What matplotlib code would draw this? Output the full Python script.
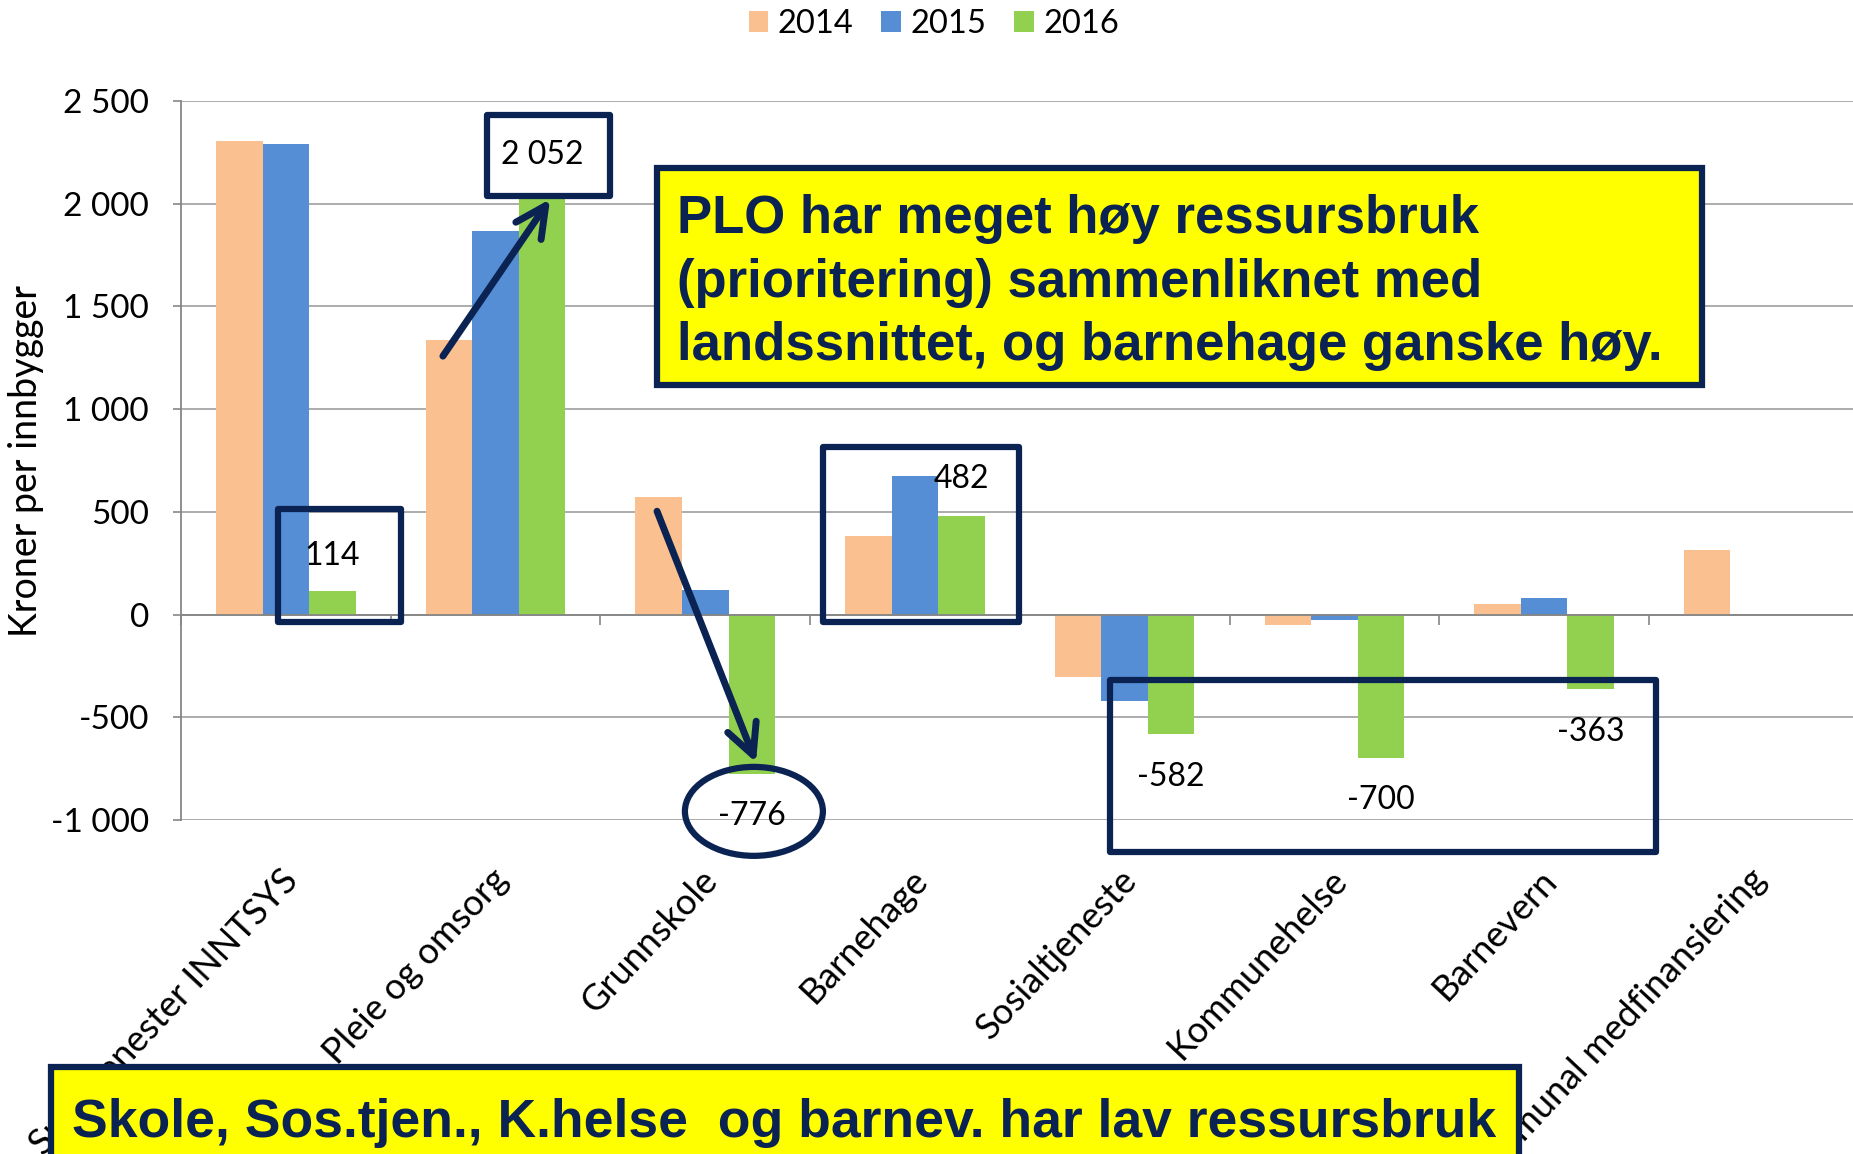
import matplotlib
matplotlib.use("Agg")
import matplotlib.pyplot as plt
from matplotlib.patches import Rectangle, Ellipse, Patch
from matplotlib.ticker import FuncFormatter
import matplotlib.transforms as mtransforms
import numpy as np

# --- data ---
categories = ["Sum tjenester INNTSYS", "Pleie og omsorg", "Grunnskole", "Barnehage",
              "Sosialtjeneste", "Kommunehelse", "Barnevern", "Kommunal medfinansiering"]
years = ["2014", "2015", "2016"]
v2014 = [2306, 1338, 570, 383, -302, -53, 51, 316]
v2015 = [2292, 1868, 119, 676, -421, -24, 79, 0]
v2016 = [114, 2052, -776, 482, -582, -700, -363, 0]
y_ticks = [-1000, -500, 0, 500, 1000, 1500, 2000, 2500]

# where the 2016 value labels sit (data y)
label_y = [286, 2237, -980, 660, -790, -905, -572]

colors = ["#FAC090", "#558ED5", "#92D050"]
navy = "#0B2352"
grid_c = "#A6A6A6"

W, H = 1853, 1154
fig = plt.figure(figsize=(W / 100, H / 100), dpi=100)

def fx(x):
    return x / W

def fy(y):
    return 1 - y / H

ax = fig.add_axes([fx(181), 334 / H, 1677.6 / W, 719 / H])
ax.set_xlim(-0.5, 7.5)
ax.set_ylim(-1000, 2500)

x = np.arange(len(categories))
bw = 0.222
series = [v2014, v2015, v2016]
for k, vals in enumerate(series):
    ax.bar(x + (k - 1) * bw, vals, width=bw, color=colors[k], zorder=2, linewidth=0)

# axes styling
for s in ["top", "right"]:
    ax.spines[s].set_visible(False)
ax.spines["left"].set_color("#868686")
ax.spines["left"].set_linewidth(1.3)
ax.spines["bottom"].set_position(("data", 0))
ax.spines["bottom"].set_color("#868686")
ax.spines["bottom"].set_linewidth(1.3)
ax.spines["bottom"].set_zorder(3)

ax.set_yticks(y_ticks)
ax.yaxis.set_major_formatter(FuncFormatter(lambda v, p: f"{int(v):,}".replace(",", " ")))
ax.tick_params(axis="y", direction="out", length=6, width=1.2, color="#868686",
               labelsize=24, pad=17, labelcolor="black")
for t in ax.get_yticklabels():
    t.set_family("Lato")
ax.set_xticks(np.arange(-0.5, 8, 1))
ax.set_xticklabels([])
ax.tick_params(axis="x", direction="out", length=7, width=1.2, color="#868686")
ax.yaxis.grid(True, color=grid_c, linewidth=1.3)
ax.set_axisbelow(True)

# category labels
trans = mtransforms.blended_transform_factory(ax.transData, ax.transAxes)
for i, c in enumerate(categories):
    ax.text(i - 0.025, -0.06, c, transform=trans, rotation=47, rotation_mode="anchor",
            ha="right", va="top", fontsize=26, family="Lato", clip_on=False)

fig.text(fx(26), fy(461), "Kroner per innbygger", rotation=90, ha="center", va="center",
         fontsize=27, family="Lato")

# legend
handles = [Patch(facecolor=c, edgecolor="none") for c in colors]
fig.legend(handles, years, loc="center", bbox_to_anchor=(fx(934), fy(24)), ncol=3,
           frameon=False, handlelength=0.6, handleheight=0.6, handletextpad=0.3,
           columnspacing=0.85, prop={"family": "Lato", "size": 23.5})

# value labels for 2016
for i, ly in enumerate(label_y):
    txt = f"{v2016[i]:,}".replace(",", " ")
    ax.text(i + bw, ly, txt, ha="center", va="center", fontsize=23, family="Lato",
            zorder=5, clip_on=False)

# annotation boxes
def box(x0, x1, y0, y1):
    ax.add_patch(Rectangle((x0, y0), x1 - x0, y1 - y0, fill=False, edgecolor=navy,
                           linewidth=4.5, joinstyle="round", zorder=6, clip_on=False))

box(-0.037, 0.549, -37, 513)
box(0.959, 1.546, 2037, 2431)
box(2.561, 3.496, -37, 815)
box(3.930, 6.534, -1157, -319)
ax.add_patch(Ellipse((2.232, -958), 0.658, 433, fill=False, edgecolor=navy,
                     linewidth=4.5, zorder=6, clip_on=False))

arrow = dict(arrowstyle="->,head_length=1.1,head_width=0.55", lw=5, color=navy,
             shrinkA=0, shrinkB=0, mutation_scale=20)
ax.annotate("", xy=(1.260, 2022), xytext=(0.749, 1258), arrowprops=arrow, zorder=7)
ax.annotate("", xy=(2.242, -720), xytext=(1.770, 503), arrowprops=arrow, zorder=7)

# yellow text boxes
fig.add_artist(Rectangle((fx(657), fy(385)), (1702 - 657) / W, (385 - 168) / H,
                         transform=fig.transFigure, facecolor="#FFFF00", edgecolor=navy,
                         linewidth=4.5, zorder=10))
top_lines = ["PLO har meget høy ressursbruk", "(prioritering) sammenliknet med",
             "landssnittet, og barnehage ganske høy."]
for line, yb in zip(top_lines, [233, 297, 360]):
    fig.text(fx(677), fy(yb), line, ha="left", va="baseline", fontsize=38,
             fontweight="bold", family="Liberation Sans", color=navy, zorder=11)

fig.add_artist(Rectangle((fx(51), fy(1180)), (1519 - 51) / W, (1180 - 1067) / H,
                         transform=fig.transFigure, facecolor="#FFFF00", edgecolor=navy,
                         linewidth=4.5, zorder=10))
fig.text(fx(72), fy(1137), "Skole, Sos.tjen., K.helse  og barnev. har lav ressursbruk",
         ha="left", va="baseline", fontsize=38.5, fontweight="bold",
         family="Liberation Sans", color=navy, zorder=11)

fig.savefig("out.png", dpi=100)
